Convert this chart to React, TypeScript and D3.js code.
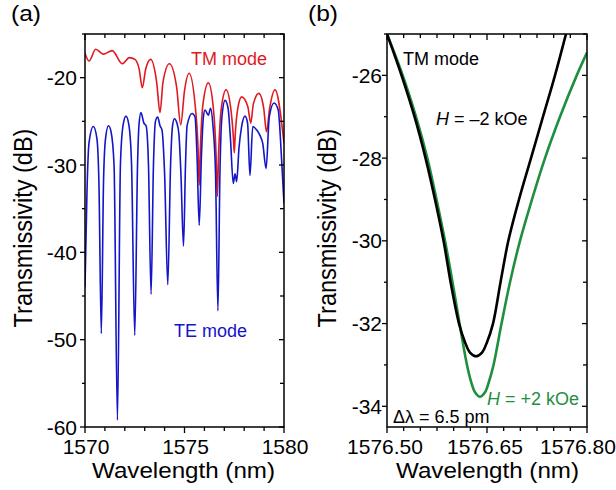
import React from "react";
import * as d3 from "d3";

// ---------- Panel (a) data ----------
const tmWavelength = [1570.00, 1570.20, 1570.54, 1570.92, 1571.37, 1571.87, 1572.23, 1572.51, 1572.72, 1572.88, 1573.05, 1573.30, 1573.60, 1573.77, 1573.92, 1574.24, 1574.60, 1574.81, 1575.00, 1575.23, 1575.55, 1575.68, 1575.74, 1575.80, 1575.93, 1576.20, 1576.45, 1576.59, 1576.65, 1576.71, 1576.85, 1577.09, 1577.35, 1577.46, 1577.50, 1577.55, 1577.68, 1577.87, 1578.18, 1578.33, 1578.46, 1578.74, 1578.98, 1579.12, 1579.28, 1579.55, 1580.00];
const tmDb = [-17.2, -18.1, -16.75, -17.3, -16.9, -18.4, -17.7, -17.9, -19.0, -21.15, -19.0, -17.9, -20.5, -24.0, -20.5, -18.4, -21.0, -25.4, -21.5, -19.5, -23.5, -28.0, -32.3, -28.0, -23.0, -20.6, -23.5, -29.0, -33.6, -29.0, -23.5, -21.4, -24.0, -27.0, -28.6, -26.5, -23.5, -22.2, -23.3, -25.2, -23.0, -21.8, -23.5, -26.2, -23.5, -21.4, -27.5];

const teWavelength = [1570.00, 1570.10, 1570.20, 1570.42, 1570.60, 1570.70, 1570.82, 1570.93, 1571.03, 1571.18, 1571.31, 1571.46, 1571.63, 1571.78, 1571.91, 1572.06, 1572.21, 1572.34, 1572.50, 1572.64, 1572.71, 1572.81, 1572.96, 1573.07, 1573.19, 1573.32, 1573.44, 1573.54, 1573.65, 1573.77, 1573.87, 1574.00, 1574.16, 1574.30, 1574.40, 1574.49, 1574.62, 1574.72, 1574.82, 1574.95, 1575.05, 1575.13, 1575.38, 1575.53, 1575.63, 1575.74, 1575.85, 1575.95, 1576.03, 1576.20, 1576.31, 1576.43, 1576.56, 1576.68, 1576.78, 1576.88, 1577.04, 1577.19, 1577.31, 1577.45, 1577.54, 1577.62, 1577.74, 1577.87, 1578.04, 1578.17, 1578.29, 1578.43, 1578.63, 1578.79, 1578.93, 1579.10, 1579.26, 1579.50, 1579.71, 1579.88, 1580.00];
const teDb = [-44.0, -33.0, -27.5, -25.6, -27.0, -32.0, -49.3, -32.0, -27.0, -25.5, -26.2, -30.0, -59.2, -30.0, -25.5, -24.4, -25.5, -30.0, -49.5, -30.0, -25.5, -24.0, -25.2, -25.5, -30.0, -44.8, -30.0, -25.0, -24.5, -25.5, -26.0, -31.0, -43.7, -30.0, -25.5, -24.7, -25.2, -26.5, -31.0, -39.3, -30.0, -25.5, -24.1, -24.5, -29.0, -36.9, -29.0, -24.5, -23.7, -24.3, -23.5, -25.5, -31.0, -46.7, -31.0, -24.5, -22.6, -23.5, -27.0, -32.1, -31.0, -31.9, -28.0, -25.6, -24.4, -25.2, -31.2, -25.6, -26.0, -26.6, -27.5, -30.4, -24.5, -22.9, -23.7, -29.4, -34.4];

const aMajorY = [-60, -50, -40, -30, -20];
const aAllY = [-60, -55, -50, -45, -40, -35, -30, -25, -20, -15];
const aMajorX = [1570, 1575, 1580];
const aAllX = [1570, 1571, 1572, 1573, 1574, 1575, 1576, 1577, 1578, 1579, 1580];

// ---------- Panel (b) data ----------
const negWavelength = [1576.5000, 1576.5218, 1576.5413, 1576.5578, 1576.5720, 1576.5848, 1576.5960, 1576.6080, 1576.6170, 1576.6245, 1576.6335, 1576.6425, 1576.6500, 1576.6590, 1576.6703, 1576.6820, 1576.6980, 1576.7160, 1576.7340, 1576.7520, 1576.7685, 1576.7775];
const negDb = [-25.0, -26.0, -27.0, -28.0, -29.0, -30.0, -31.05, -32.0, -32.45, -32.70, -32.79, -32.70, -32.45, -32.0, -31.0, -30.0, -29.0, -28.0, -27.0, -26.0, -25.0, -24.45];

const posWavelength = [1576.5000, 1576.5236, 1576.5435, 1576.5605, 1576.5743, 1576.5870, 1576.5983, 1576.6088, 1576.6200, 1576.6260, 1576.6320, 1576.6395, 1576.6470, 1576.6530, 1576.6598, 1576.6718, 1576.6845, 1576.6995, 1576.7175, 1576.7370, 1576.7595, 1576.7846, 1576.8000];
const posDb = [-25.0, -26.0, -27.0, -28.0, -29.0, -30.0, -31.0, -32.0, -33.0, -33.4, -33.66, -33.77, -33.66, -33.4, -33.0, -32.0, -31.0, -30.0, -29.0, -28.0, -27.0, -26.0, -25.45];

const bMajorY = [-34, -32, -30, -28, -26];
const bAllY = [-34, -33, -32, -31, -30, -29, -28, -27, -26, -25];
const bMajorX = [1576.5, 1576.65, 1576.8];
const bAllX = [1576.5, 1576.525, 1576.55, 1576.575, 1576.6, 1576.625, 1576.65, 1576.675, 1576.7, 1576.725, 1576.75, 1576.775, 1576.8];

const FONT = "'Liberation Sans', Arial, Helvetica, sans-serif";
const RED = "#e01a1f";
const BLUE = "#1414c8";
const GREEN = "#1f8f3f";

type Pt = [number, number];
const zip = (a: number[], b: number[]): Pt[] => a.map((v, i) => [v, b[i]]);

function Frame(props: {
  id: string;
  x: d3.ScaleLinear<number, number>;
  y: d3.ScaleLinear<number, number>;
  majorX: number[];
  allX: number[];
  majorY: number[];
  allY: number[];
  fmtX: (v: number) => string;
  xLabelPos: (v: number) => number;
  yGap: number;
  children?: React.ReactNode;
}) {
  const { id, x, y, majorX, allX, majorY, allY, fmtX, xLabelPos, yGap } = props;
  const [x0, x1] = x.range();
  const [y0, y1] = y.range();
  const isMajor = (arr: number[], v: number) => arr.some((m) => Math.abs(m - v) < 1e-6);
  return (
    <g>
      <defs>
        <clipPath id={id}>
          <rect x={x0} y={y1} width={x1 - x0} height={y0 - y1} />
        </clipPath>
      </defs>
      <g clipPath={`url(#${id})`}>{props.children}</g>
      {allX.map((v, i) => {
        const px = x(v);
        const mj = isMajor(majorX, v);
        return (
          <g key={"x" + i} stroke="#000" strokeWidth={1.3}>
            <line x1={px} x2={px} y1={y0} y2={y0 + (mj ? 6 : 4)} />
            <line x1={px} x2={px} y1={y1} y2={y1 + (mj ? 6 : 4)} />
          </g>
        );
      })}
      {allY.map((v, i) => {
        const py = y(v);
        const mj = isMajor(majorY, v);
        return (
          <g key={"y" + i} stroke="#000" strokeWidth={1.3}>
            <line x1={x0} x2={x0 - (mj ? 5 : 3)} y1={py} y2={py} />
            <line x1={x1} x2={x1 - (mj ? 5 : 4)} y1={py} y2={py} />
          </g>
        );
      })}
      <rect x={x0} y={y1} width={x1 - x0} height={y0 - y1} fill="none" stroke="#000" strokeWidth={1.5} />
      {majorX.map((v, i) => (
        <text key={"xl" + i} x={xLabelPos(v)} y={454} textAnchor="middle" fontSize={21} fontFamily={FONT} fill="#000">
          {fmtX(v)}
        </text>
      ))}
      {majorY.map((v, i) => (
        <text key={"yl" + i} x={x0 - yGap} y={y(v)} dy="0.36em" textAnchor="end" fontSize={21} fontFamily={FONT} fill="#000">
          {String(v)}
        </text>
      ))}
    </g>
  );
}

export default function App() {
  const xA = d3.scaleLinear().domain([1570, 1580]).range([85, 284]);
  const yA = d3.scaleLinear().domain([-60, -15]).range([427, 34]);
  const xB = d3.scaleLinear().domain([1576.5, 1576.8]).range([387, 587]);
  const yB = d3.scaleLinear().domain([-34.5, -25]).range([427, 34]);

  const lineA = d3
    .line<Pt>()
    .x((d) => xA(d[0]))
    .y((d) => yA(d[1]))
    .curve(d3.curveMonotoneX);
  const lineB = d3
    .line<Pt>()
    .x((d) => xB(d[0]))
    .y((d) => yB(d[1]))
    .curve(d3.curveCatmullRom.alpha(0.5));

  const tm = zip(tmWavelength, tmDb);
  const te = zip(teWavelength, teDb);
  const neg = zip(negWavelength, negDb);
  const pos = zip(posWavelength, posDb);

  return (
    <svg width={616} height={490} style={{ position: "absolute", left: 0, top: 0, background: "#fff" }} fontFamily={FONT}>
      <rect x={0} y={0} width={616} height={490} fill="#fff" />
      {/* Panel (a) */}
      <Frame
        id="clipA"
        x={xA}
        y={yA}
        majorX={aMajorX}
        allX={aAllX}
        majorY={aMajorY}
        allY={aAllY}
        fmtX={(v) => String(v)}
        xLabelPos={(v) => xA(v) + 1}
        yGap={8}
      >
        <path d={lineA(tm) || ""} fill="none" stroke={RED} strokeWidth={1.6} strokeLinejoin="round" />
        <path d={lineA(te) || ""} fill="none" stroke={BLUE} strokeWidth={1.6} strokeLinejoin="round" />
      </Frame>
      <text x={191} y={65} fontSize={18} fill={RED}>TM mode</text>
      <text x={174} y={337} fontSize={18} fill={BLUE}>TE mode</text>
      <text x={11} y={21} fontSize={22} textLength={30} lengthAdjust="spacingAndGlyphs">(a)</text>
      <text transform="translate(32,228) scale(1.1,1) rotate(-90)" textAnchor="middle" fontSize={23.5}>Transmissivity (dB)</text>
      <text x={183.5} y={478} textAnchor="middle" fontSize={22} textLength={183} lengthAdjust="spacingAndGlyphs">Wavelength (nm)</text>

      {/* Panel (b) */}
      <Frame
        id="clipB"
        x={xB}
        y={yB}
        majorX={bMajorX}
        allX={bAllX}
        majorY={bMajorY}
        allY={bAllY}
        fmtX={(v) => d3.format(".2f")(v)}
        xLabelPos={(v) => Math.min(xB(v) - 2, 578)}
        yGap={5}
      >
        <path d={lineB(pos) || ""} fill="none" stroke={GREEN} strokeWidth={2.6} strokeLinejoin="round" />
        <path d={lineB(neg) || ""} fill="none" stroke="#000" strokeWidth={2.6} strokeLinejoin="round" />
      </Frame>
      <text x={403} y={65} fontSize={18}>TM mode</text>
      <text x={436} y={125} fontSize={18}>
        <tspan fontStyle="italic">H</tspan> = –2 kOe
      </text>
      <text x={487} y={405} fontSize={18} fill={GREEN}>
        <tspan fontStyle="italic">H</tspan> = +2 kOe
      </text>
      <text x={393} y={423} fontSize={18}>Δλ = 6.5 pm</text>
      <text x={308} y={21} fontSize={22} textLength={30} lengthAdjust="spacingAndGlyphs">(b)</text>
      <text transform="translate(336,228) scale(1.1,1) rotate(-90)" textAnchor="middle" fontSize={23.5}>Transmissivity (dB)</text>
      <text x={487.5} y={478} textAnchor="middle" fontSize={22} textLength={183} lengthAdjust="spacingAndGlyphs">Wavelength (nm)</text>
    </svg>
  );
}
